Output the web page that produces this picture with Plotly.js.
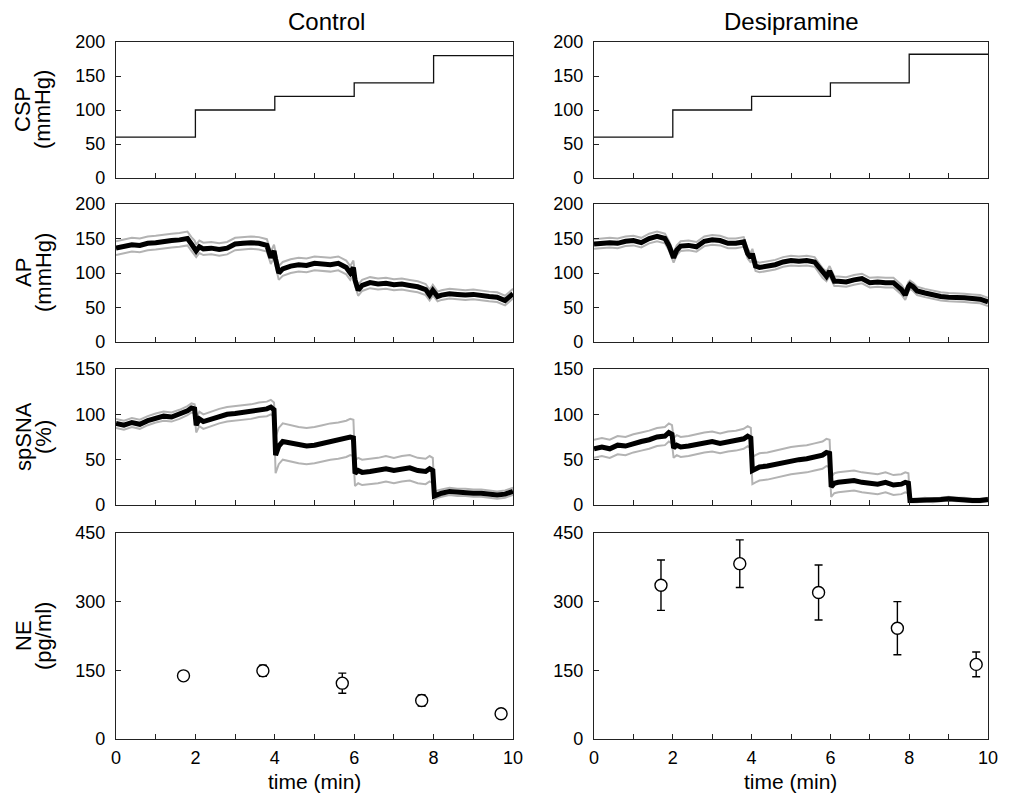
<!DOCTYPE html>
<html>
<head>
<meta charset="utf-8">
<script src="https://cdn.plot.ly/plotly-3.0.1.min.js"></script>
<style>html,body{margin:0;padding:0;background:#fff;}#chart{width:1026px;height:796px;}</style>
</head>
<body>
<div id="chart"></div>
<script>
// ---- Data ----
const time = [0,0.2,0.4,0.6,0.8,1.0,1.2,1.4,1.6,1.8,1.9,1.98,2.02,2.1,2.2,2.4,2.6,2.8,3.0,3.2,3.4,3.6,3.8,3.9,3.98,4.02,4.1,4.2,4.4,4.6,4.8,5.0,5.2,5.4,5.6,5.8,5.9,5.98,6.02,6.1,6.2,6.4,6.6,6.8,7.0,7.2,7.4,7.6,7.8,7.9,7.98,8.02,8.1,8.2,8.4,8.6,8.8,9.0,9.2,9.4,9.6,9.8,10];

// CSP step protocol (mmHg)
const cspTime = [0,2,4,6,8,10];
const cspControl = [60,100,120,140,180,179];
const cspDesipramine = [60,100,120,140,182,182];

// AP mean (mmHg)
const apControl = [136,139,141,140,143,144,146,147,148,150,142,137,132,138,135,136,134,136,142,143,144,143,140,122,132,120,100,106,110,112,111,114,113,112,114,108,100,108,90,75,82,86,84,85,83,84,82,80,76,68,75,72,66,68,70,69,68,69,67,66,65,60,70];
const apDesipramine = [142,143,144,143,146,147,144,150,153,150,140,128,122,133,139,140,138,146,148,147,143,143,145,128,122,128,110,108,110,112,116,118,117,118,116,100,95,103,98,88,88,87,90,92,86,87,86,86,76,68,80,83,80,74,71,68,66,65,65,64,63,62,58];
// AP SE per 2-min step
const apSeControl = [10,9,10,8,7];
const apSeDesipramine = [7,7,7,7,6];

// spSNA mean (%)
const snaControl = [90,88,91,89,93,96,98,97,100,104,107,106,88,95,92,95,98,100,101,102,103,105,106,108,105,55,65,70,68,66,65,66,68,70,71,73,75,74,35,38,36,37,38,40,38,40,41,38,37,40,38,10,12,13,15,14,14,13,13,12,11,12,15];
const snaDesipramine = [62,64,62,66,65,68,70,72,75,76,80,78,63,66,64,65,67,69,70,68,70,71,73,76,74,38,40,42,43,45,47,49,50,51,53,55,58,57,20,24,25,26,27,25,24,23,25,22,23,25,24,5,5,5,6,5,6,7,6,6,5,5,6];
// spSNA SE per 2-min step
const snaSeControl = [5,8,20,14,4];
const snaSeDesipramine = [10,11,15,11,2];

// NE (pg/ml)
const neTime = [1.7,3.7,5.7,7.7,9.7];
const neControl = [138,149,122,84,55];
const neErrControl = [5,12,22,12,4];
const neDesipramine = [336,383,320,242,163];
const neErrDesipramine = [55,52,60,58,27];

// ---- Helpers ----
function segOf(t){ if(t<2) return 0; if(t<4) return 1; if(t<6) return 2; if(t<8) return 3; return 4; }
function band(mean, se, sign){ return mean.map((v,i)=> v + sign*se[segOf(time[i])]); }

const FONT = 'Liberation Sans, Arial, sans-serif';
const traces = [];
function axName(ax, k){ return k + (ax===1?'':ax); }
function bandTraces(mean, se, ax){
  const xa = axName(ax,'x'), ya = axName(ax,'y');
  [1,-1].forEach(s=>{
    traces.push({x:time, y:band(mean,se,s), xaxis:xa, yaxis:ya, mode:'lines', line:{color:'#b3b3b3', width:2}, hoverinfo:'skip', showlegend:false});
  });
  traces.push({x:time, y:mean, xaxis:xa, yaxis:ya, mode:'lines', line:{color:'#000', width:5}, showlegend:false});
}

// Row 1: CSP
traces.push({x:cspTime, y:cspControl, xaxis:'x', yaxis:'y', mode:'lines', line:{shape:'hv', color:'#111', width:1.3}, showlegend:false});
traces.push({x:cspTime, y:cspDesipramine, xaxis:'x2', yaxis:'y2', mode:'lines', line:{shape:'hv', color:'#111', width:1.3}, showlegend:false});
// Row 2: AP
bandTraces(apControl, apSeControl, 3);
bandTraces(apDesipramine, apSeDesipramine, 4);
// Row 3: spSNA
bandTraces(snaControl, snaSeControl, 5);
bandTraces(snaDesipramine, snaSeDesipramine, 6);
// Row 4: NE
[[neControl,neErrControl,7],[neDesipramine,neErrDesipramine,8]].forEach(([y,e,ax])=>{
  traces.push({x:neTime, y:y, xaxis:'x'+ax, yaxis:'y'+ax, mode:'markers',
    marker:{symbol:'circle', size:12, color:'#fff', line:{color:'#000', width:1.4}},
    error_y:{type:'data', array:e, visible:true, color:'#000', thickness:1.4, width:4},
    showlegend:false});
});

// ---- Layout ----
const W=1026, H=796;
const xDom = [[116/W, 513/W],[594/W, 988/W]];
const rowsPx = [[42,178],[204,342],[369,505],[533,739]];
const yRanges = [[0,200],[0,200],[0,150],[0,450]];
const yDticks = [50,50,50,150];

const layout = {
  width:W, height:H, paper_bgcolor:'#fff', plot_bgcolor:'#fff',
  margin:{l:0,r:0,t:0,b:0}, showlegend:false,
  font:{family:FONT, size:18, color:'#000'},
  annotations:[]
};
for(let r=0;r<4;r++){
  for(let c=0;c<2;c++){
    const ax = r*2+c+1;
    const yd = [1-rowsPx[r][1]/H, 1-rowsPx[r][0]/H];
    layout[axName(ax,'xaxis')] = {
      domain:xDom[c], anchor:axName(ax,'y'), range:[0,10], tickmode:'linear', tick0:0, dtick:2,
      ticks:'inside', ticklen:5, tickcolor:'#222', tickwidth:1,
      minor:{dtick:1, ticks:'inside', ticklen:5, tickcolor:'#222', tickwidth:1, showgrid:false},
      showline:true, mirror:true, linecolor:'#222', linewidth:1.2,
      showgrid:false, zeroline:false, showticklabels:(r===3), ticklabelstandoff:2,
      tickfont:{family:FONT, size:18, color:'#000'}, fixedrange:true
    };
    layout[axName(ax,'yaxis')] = {
      domain:yd, anchor:axName(ax,'x'), range:yRanges[r], tickmode:'linear', tick0:0, dtick:yDticks[r],
      ticks:'inside', ticklen:5, tickcolor:'#222', tickwidth:1,
      showline:true, mirror:true, linecolor:'#222', linewidth:1.2,
      showgrid:false, zeroline:false, ticklabelstandoff:6,
      tickfont:{family:FONT, size:18, color:'#000'}, fixedrange:true
    };
  }
}
// Column titles
layout.annotations.push({text:'Control', xref:'paper', yref:'paper', x:326/W, y:1-22/H, showarrow:false, xanchor:'center', yanchor:'middle', font:{family:FONT, size:24, color:'#000'}});
layout.annotations.push({text:'Desipramine', xref:'paper', yref:'paper', x:791/W, y:1-22/H, showarrow:false, xanchor:'center', yanchor:'middle', font:{family:FONT, size:24, color:'#000'}});
// Y-axis titles (left column)
const yTitles = [['CSP','(mmHg)'],['AP','(mmHg)'],['spSNA','(%)'],['NE','(pg/ml)']];
yTitles.forEach((pair,r)=>{
  const yc = 1-((rowsPx[r][0]+rowsPx[r][1])/2)/H;
  layout.annotations.push({text:pair[0], xref:'paper', yref:'paper', x:23/W, y:yc, textangle:-90, showarrow:false, xanchor:'center', yanchor:'middle', font:{family:FONT, size:22, color:'#000'}});
  layout.annotations.push({text:pair[1], xref:'paper', yref:'paper', x:43/W, y:yc, textangle:-90, showarrow:false, xanchor:'center', yanchor:'middle', font:{family:FONT, size:22, color:'#000'}});
});
// X-axis titles (bottom row)
xDom.forEach(d=>{
  layout.annotations.push({text:'time (min)', xref:'paper', yref:'paper', x:(d[0]+d[1])/2, y:1-781/H, showarrow:false, xanchor:'center', yanchor:'middle', font:{family:FONT, size:21, color:'#000'}});
});

Plotly.newPlot('chart', traces, layout, {displayModeBar:false, staticPlot:true});
</script>
</body>
</html>
